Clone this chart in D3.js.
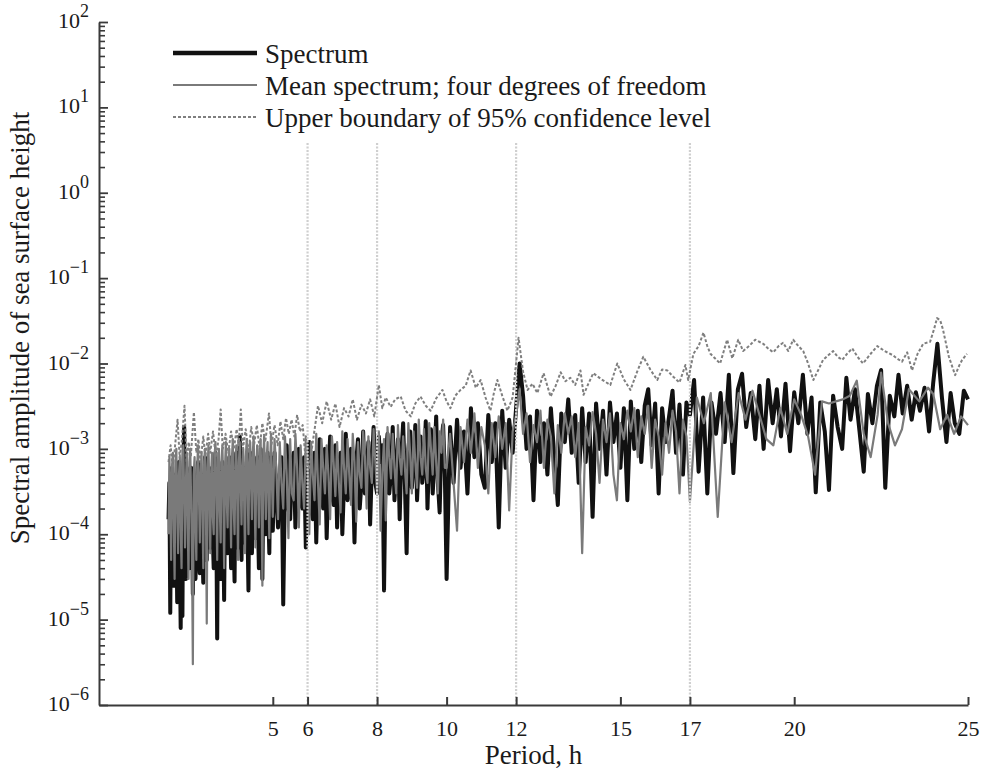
<!DOCTYPE html>
<html>
<head>
<meta charset="utf-8">
<script src="https://cdn.jsdelivr.net/npm/d3@7/dist/d3.min.js"></script>
<style>
  body { margin: 0; background: #fff; }
  svg { display: block; }
  text { font-family: "Liberation Serif", "Times New Roman", Tinos, "Nimbus Roman", "Noto Serif", "DejaVu Serif", serif; fill: #1a1a1a; }
</style>
</head>
<body>
<svg id="chart" width="984" height="769"></svg>
<script>
// ---- Axis ticks and reference periods ----
const periodTicks = [5, 6, 8, 10, 12, 15, 17, 20, 25];
const markerPeriods = [6, 8, 12, 17];
const decadeExponents = [2, 1, 0, -1, -2, -3, -4, -5, -6];

const legendLabels = [
  "Spectrum",
  "Mean spectrum; four degrees of freedom",
  "Upper boundary of 95% confidence level"
];

// ---- Spectrum: [period (h), amplitude] ----
const spectrumA = [
  [2.000,1.5e-4],[2.025,4e-4],[2.050,1.2e-5],[2.075,3e-4],[2.100,6e-4],[2.125,5e-5],[2.150,2.5e-5],[2.175,4e-4],
  [2.200,5e-4],[2.225,1.2e-4],[2.250,1.6e-5],[2.275,2e-4],[2.300,7e-4],[2.325,6e-5],[2.350,8e-6],[2.375,3e-4],
  [2.400,1.1e-5],[2.425,5e-4],[2.450,1.8e-3],[2.475,1e-4],[2.500,3e-5],[2.525,6e-4],[2.550,5e-4],[2.575,8e-5],
  [2.600,4e-5],[2.625,3e-4],[2.650,6e-4],[2.675,1.5e-4],[2.700,2e-5],[2.725,2.5e-4],[2.750,4e-4],[2.775,3e-5],
  [2.800,6e-5],[2.825,5e-4],[2.850,7e-4],[2.875,1.2e-4],[2.900,3.5e-5],[2.925,4e-4],[2.950,5e-4],[2.975,7e-5],
  [3.000,2.7e-5],[3.025,3e-4],[3.050,8e-4],[3.075,1e-4],[3.100,5e-5],[3.125,6e-4],[3.150,4e-4],[3.175,1.8e-4],
  [3.200,7e-5],[3.225,2e-4],[3.250,6e-4],[3.275,9e-5],[3.300,4e-5],[3.325,5e-4],[3.350,9e-4],[3.375,1.3e-4],
  [3.400,6e-6],[3.425,3e-4],[3.450,5e-4],[3.475,6e-5],[3.500,3e-5],[3.525,4e-4],[3.550,7e-4],[3.575,1.1e-4],
  [3.600,1.7e-5],[3.625,2.5e-4],[3.650,5e-4],[3.675,2e-4],[3.700,6e-5],[3.725,4e-4],[3.750,8e-4],[3.775,1.4e-4],
  [3.800,4e-5],[3.825,3e-4],[3.850,6e-4],[3.875,8e-5],[3.900,2.8e-5],[3.925,5e-4],[3.950,9e-4],[3.975,1.6e-4],
  [4.000,7e-5],[4.025,6e-4],[4.050,1.4e-3],[4.075,1.2e-4],[4.100,5e-5],[4.125,3e-4],[4.150,6e-4],[4.175,2e-4],
  [4.200,8e-5],[4.225,4e-4],[4.250,7e-4],[4.275,1e-4],[4.300,2.2e-5],[4.325,5e-4],[4.350,9e-4],[4.375,2.2e-4],
  [4.400,6e-5],[4.425,3e-4],[4.450,6e-4],[4.475,1.5e-4],[4.500,9e-5],[4.525,5e-4],[4.550,8e-4],[4.575,1.3e-4],
  [4.600,4e-5],[4.625,4e-4],[4.650,1e-3],[4.675,2e-4],[4.700,3e-5],[4.725,3e-4],[4.750,7e-4],[4.775,2.5e-4],
  [4.800,1e-4],[4.825,6e-4],[4.850,9e-4],[4.875,1.6e-4],[4.900,6e-5],[4.925,4e-4],[4.950,8e-4],[4.975,2e-4],
  [5.000,1.1e-4]
];
const spectrumB = [
  [5.05,9e-4],[5.10,3e-4],[5.15,1.2e-4],[5.20,5e-4],[5.25,8e-4],[5.30,1.5e-5],[5.35,4e-4],[5.40,1.1e-3],
  [5.45,2e-4],[5.50,1.5e-4],[5.55,7e-4],[5.60,9e-4],[5.65,1.2e-4],[5.70,4e-4],[5.75,1e-3],[5.80,2.5e-4],
  [5.85,2e-4],[5.90,8e-4],[5.95,7e-5],[6.00,5e-4],[6.05,1.2e-3],[6.10,2e-4],[6.15,1.5e-4],[6.20,9e-4],
  [6.25,8e-5],[6.30,6e-4],[6.35,1.3e-3],[6.40,3e-4],[6.45,2e-4],[6.50,1e-3],[6.55,9e-5],[6.60,5e-4],
  [6.65,1.4e-3],[6.70,3e-4],[6.75,2.2e-4],[6.80,1.1e-3],[6.85,1.2e-4],[6.90,6e-4],[6.95,9e-4],[7.00,1e-4],
  [7.05,4e-4],[7.10,1.5e-3],[7.15,2.5e-4],[7.20,3e-4],[7.25,1e-3],[7.30,6e-4],[7.35,8e-5],[7.40,7e-4],
  [7.45,1.3e-3],[7.50,2e-4],[7.55,4e-4],[7.60,1.6e-3],[7.65,3e-4],[7.70,5e-4],[7.75,1.2e-3],[7.80,1.3e-4],
  [7.85,6e-4],[7.90,1.8e-3],[7.95,4e-4],[8.00,3e-4],[8.05,1.4e-3],[8.10,7e-4],[8.15,1.1e-3],[8.20,2.2e-5],
  [8.25,8e-4],[8.30,1.5e-3],[8.35,3e-4],[8.40,5e-4],[8.45,1.8e-3],[8.50,2.5e-4],[8.55,6e-4],[8.60,1.3e-3],
  [8.65,1.5e-4],[8.70,9e-4],[8.75,2e-3],[8.80,4e-4],[8.85,6e-5],[8.90,1e-3],[8.95,1.6e-3],[9.00,3.5e-4],
  [9.05,7e-4],[9.10,1.9e-3],[9.15,2.5e-4],[9.20,8e-4],[9.25,1.4e-3],[9.30,4e-4],[9.35,6e-4],[9.40,2.1e-3],
  [9.45,2e-4],[9.50,9e-4],[9.55,1.7e-3],[9.60,3e-4],[9.65,7e-4],[9.70,2.4e-3],[9.75,4e-4],[9.80,1.8e-4],
  [9.85,1.2e-3],[9.90,1.9e-3],[9.95,5e-4]
];
const spectrumC = [
  [10.0,3e-5],[10.1,1.8e-3],[10.2,4e-4],[10.3,2.2e-3],[10.4,6e-4],[10.5,1.6e-3],[10.6,3e-4],[10.7,3e-3],
  [10.8,8e-4],[10.9,2e-3],[11.0,5e-4],[11.1,3.5e-4],[11.2,2.5e-3],[11.3,7e-4],[11.4,2e-3],[11.5,1.2e-4],
  [11.6,2.8e-3],[11.7,6e-4],[11.8,2.2e-3],[11.9,9e-4],[12.0,3e-3],[12.1,1e-2],[12.2,4.2e-3],[12.3,1e-3],
  [12.4,2.4e-3],[12.5,2.5e-4],[12.6,2.8e-3],[12.7,7e-4],[12.8,2e-3],[12.9,5e-4],[13.0,3e-3],[13.1,8e-4],
  [13.2,2.2e-4],[13.3,2.6e-3],[13.4,1.2e-3],[13.5,3.8e-3],[13.6,9e-4],[13.7,2.5e-3],[13.8,4e-4],[13.9,3e-3],
  [14.0,7e-4],[14.1,2.6e-3],[14.2,1.6e-4],[14.3,3.4e-3],[14.4,1e-3],[14.5,2.8e-3],[14.6,5e-4],[14.7,3.5e-3],
  [14.8,1.2e-3],[14.9,2.6e-3],[15.0,6e-4],[15.1,3e-3],[15.2,2.5e-4],[15.3,3.6e-3],[15.4,1e-3],[15.5,2.8e-3],
  [15.6,7e-4],[15.7,3.2e-3],[15.8,5e-3],[15.9,1.1e-3],[16.0,3.4e-3],[16.1,3e-4],[16.2,3e-3],[16.3,1.2e-3],
  [16.4,2.4e-3],[16.5,4.8e-3],[16.6,9e-4],[16.7,3.3e-3],[16.8,5e-4],[16.9,3.5e-3]
];
const spectrumD = [
  [17.00,2.5e-3],[17.12,6.4e-3],[17.25,5.4e-4],[17.38,4e-3],[17.50,3e-4],[17.62,3.5e-3],[17.75,1.5e-3],[17.88,4.5e-3],
  [18.00,1.2e-3],[18.12,7.4e-3],[18.25,5.2e-4],[18.38,5e-3],[18.50,7.6e-3],[18.62,1.8e-3],[18.75,4.5e-3],[18.88,1.3e-3],
  [19.00,5.5e-3],[19.12,1e-3],[19.25,6.4e-3],[19.38,2e-3],[19.50,5e-3],[19.62,1.4e-3],[19.75,5.8e-3],[19.88,9.4e-4],
  [20.00,4.6e-3],[20.12,2e-3],[20.25,7.4e-3],[20.38,1.5e-3],[20.50,4e-3],[20.62,3.1e-4],[20.75,3.5e-3],[20.88,1.6e-3],
  [21.00,3.3e-4],[21.12,4.2e-3],[21.25,1.8e-3],[21.38,1e-3],[21.50,6.8e-3],[21.62,2.2e-3],[21.75,5e-3],[21.88,1.6e-3],
  [22.00,5.4e-4],[22.12,4.4e-3],[22.25,2e-3],[22.38,5.5e-3],[22.50,8.4e-3],[22.62,3.5e-4],[22.75,4.2e-3],[22.88,2.4e-3],
  [23.00,7.4e-3],[23.12,2.6e-3],[23.25,5.5e-3],[23.38,2.2e-3],[23.50,4.6e-3],[23.62,2.8e-3],[23.75,5.2e-3],[23.88,1.6e-3],
  [24.00,6e-3],[24.12,1.7e-2],[24.25,4e-3],[24.38,1.2e-3],[24.50,4.5e-3],[24.62,2e-3],[24.75,1.5e-3],[24.88,4.8e-3],
  [25.00,3.8e-3]
];

// ---- Mean spectrum (four degrees of freedom) ----
const meanA = [
  [2.000,1e-4],[2.025,8e-4],[2.050,3e-4],[2.075,5e-5],[2.100,6e-4],[2.125,9e-4],[2.150,1.5e-4],[2.175,3e-5],
  [2.200,7e-4],[2.225,1e-3],[2.250,2e-4],[2.275,6e-5],[2.300,5e-4],[2.325,8e-4],[2.350,1.2e-4],[2.375,4e-5],
  [2.400,6e-4],[2.425,1.1e-3],[2.450,3e-4],[2.475,7e-5],[2.500,4e-4],[2.525,9e-4],[2.550,1.8e-4],[2.575,3e-5],
  [2.600,7e-4],[2.625,1e-3],[2.650,2.5e-4],[2.675,6e-5],[2.700,3e-6],[2.725,5e-4],[2.750,8e-4],[2.775,1.3e-4],
  [2.800,5e-5],[2.825,6e-4],[2.850,1.1e-3],[2.875,3e-4],[2.900,8e-5],[2.925,5e-4],[2.950,9e-4],[2.975,2e-4],
  [3.000,4e-5],[3.025,7e-4],[3.050,1e-3],[3.075,2.5e-4],[3.100,9e-6],[3.125,6e-4],[3.150,1.1e-3],[3.175,3e-4],
  [3.200,6e-5],[3.225,5e-4],[3.250,9e-4],[3.275,1.6e-4],[3.300,1e-4],[3.325,8e-4],[3.350,1.2e-3],[3.375,3e-4],
  [3.400,5e-5],[3.425,6e-4],[3.450,1e-3],[3.475,2e-4],[3.500,8e-5],[3.525,7e-4],[3.550,1.1e-3],[3.575,3.5e-4],
  [3.600,4e-5],[3.625,6e-4],[3.650,1.2e-3],[3.675,2.5e-4],[3.700,1.2e-4],[3.725,7e-4],[3.750,1e-3],[3.775,3e-4],
  [3.800,7e-5],[3.825,8e-4],[3.850,1.3e-3],[3.875,2e-4],[3.900,1e-4],[3.925,6e-4],[3.950,1.1e-3],[3.975,3e-4],
  [4.000,5e-5],[4.025,7e-4],[4.050,1.2e-3],[4.075,4e-4],[4.100,1.3e-4],[4.125,6e-4],[4.150,1e-3],[4.175,2.5e-4],
  [4.200,6e-5],[4.225,8e-4],[4.250,1.3e-3],[4.275,3.5e-4],[4.300,1e-4],[4.325,7e-4],[4.350,1.2e-3],[4.375,4e-4],
  [4.400,1.5e-4],[4.425,9e-4],[4.450,1.4e-3],[4.475,3e-4],[4.500,7e-5],[4.525,6e-4],[4.550,1.1e-3],[4.575,4e-4],
  [4.600,1.2e-4],[4.625,8e-4],[4.650,1.3e-3],[4.675,3e-4],[4.700,2.5e-5],[4.725,7e-4],[4.750,1.4e-3],[4.775,4.5e-4],
  [4.800,1.5e-4],[4.825,8e-4],[4.850,1.2e-3],[4.875,3e-4],[4.900,9e-5],[4.925,7e-4],[4.950,1.5e-3],[4.975,4e-4],
  [5.000,1.6e-4]
];
const meanB = [
  [5.05,1.3e-3],[5.10,6e-4],[5.15,1.5e-4],[5.20,1.2e-3],[5.25,4e-4],[5.30,2e-4],[5.35,1.4e-3],[5.40,5e-4],
  [5.45,9e-5],[5.50,1.3e-3],[5.55,3e-4],[5.60,2.5e-4],[5.65,1.5e-3],[5.70,6e-4],[5.75,1.2e-4],[5.80,1.1e-3],
  [5.85,4e-4],[5.90,2e-4],[5.95,1.4e-3],[6.00,7e-4],[6.05,1e-4],[6.10,1.2e-3],[6.15,5e-4],[6.20,2.5e-4],
  [6.25,1.5e-3],[6.30,4e-4],[6.35,1.3e-4],[6.40,1.3e-3],[6.45,6e-4],[6.50,3e-4],[6.55,1.1e-3],[6.60,5e-4],
  [6.65,1.5e-4],[6.70,1.4e-3],[6.75,7e-4],[6.80,2.8e-4],[6.85,1.2e-3],[6.90,4e-4],[6.95,1.8e-4],[7.00,1.6e-3],
  [7.05,6e-4],[7.10,3e-4],[7.15,1.3e-3],[7.20,5e-4],[7.25,2.2e-4],[7.30,1.5e-3],[7.35,7e-4],[7.40,1.4e-4],
  [7.45,1.2e-3],[7.50,5e-4],[7.55,3.5e-4],[7.60,1.6e-3],[7.65,8e-4],[7.70,2e-4],[7.75,1.4e-3],[7.80,6e-4],
  [7.85,4e-4],[7.90,1.7e-3],[7.95,7e-4],[8.00,3e-4],[8.05,1.6e-3],[8.10,1.1e-4],[8.15,5e-4],[8.20,1.3e-3],
  [8.25,1.45e-4],[8.30,1.8e-3],[8.35,8e-4],[8.40,4.5e-4],[8.45,1.5e-3],[8.50,6e-4],[8.55,3e-4],[8.60,1.9e-3],
  [8.65,8e-4],[8.70,5e-4],[8.75,1.4e-3],[8.80,6e-4],[8.85,3e-4],[8.90,2e-3],[8.95,9e-4],[9.00,3e-4],
  [9.05,1.6e-3],[9.10,7e-4],[9.15,3.5e-4],[9.20,2.2e-3],[9.25,8e-4],[9.30,5e-4],[9.35,1.7e-3],[9.40,6e-4],
  [9.45,4e-4],[9.50,2e-3],[9.55,1e-3],[9.60,5e-4],[9.65,1.8e-3],[9.70,7e-4],[9.75,3e-4],[9.80,1.6e-3],
  [9.85,9e-4],[9.90,2.2e-3],[9.95,6e-4]
];
const meanC = [
  [10.0,6e-4],[10.1,1.5e-3],[10.2,4e-4],[10.3,1.1e-4],[10.4,1.8e-3],[10.5,7e-4],[10.6,2.2e-3],[10.7,9e-4],
  [10.8,2.6e-3],[10.9,6e-4],[11.0,1.8e-3],[11.1,1.1e-3],[11.2,3e-4],[11.3,2e-3],[11.4,8e-4],[11.5,2.4e-3],
  [11.6,1e-3],[11.7,2e-3],[11.8,1.9e-4],[11.9,1.6e-3],[12.0,2.5e-3],[12.1,5e-3],[12.2,1.5e-3],[12.3,2.6e-3],
  [12.4,7e-4],[12.5,1.9e-3],[12.6,1.2e-3],[12.7,2.8e-3],[12.8,6e-4],[12.9,2.2e-3],[13.0,1.4e-3],[13.1,3e-4],
  [13.2,1.9e-3],[13.3,9e-4],[13.4,2.6e-3],[13.5,1.5e-3],[13.6,2.4e-3],[13.7,8e-4],[13.8,2e-3],[13.9,6e-5],
  [14.0,1.8e-3],[14.1,1.1e-3],[14.2,2.7e-3],[14.3,1.5e-3],[14.4,4e-4],[14.5,2.2e-3],[14.6,1.2e-3],[14.7,2.6e-3],
  [14.8,5e-4],[14.9,2.5e-4],[15.0,2e-3],[15.1,1.3e-3],[15.2,2.8e-3],[15.3,1.6e-3],[15.4,3e-3],[15.5,8e-4],
  [15.6,2.4e-3],[15.7,1.5e-3],[15.8,3.2e-3],[15.9,6e-4],[16.0,2.2e-3],[16.1,1.4e-3],[16.2,5e-4],[16.3,2e-3],
  [16.4,9e-4],[16.5,2.8e-3],[16.6,1.6e-3],[16.7,3e-4],[16.8,2.2e-3],[16.9,1.4e-3]
];
const meanD = [
  [17.0,2.4e-4],[17.2,4e-3],[17.4,2e-3],[17.6,4.5e-3],[17.8,1.6e-4],[18.0,3.5e-3],[18.2,1.2e-3],[18.4,4.5e-3],
  [18.6,2.2e-3],[18.8,4.8e-3],[19.0,2.5e-3],[19.2,1.3e-3],[19.4,1.1e-3],[19.6,3e-3],[19.8,1.5e-3],[20.0,3.8e-3],
  [20.2,2.5e-3],[20.4,1.4e-3],[20.6,5e-4],[20.8,3.6e-3],[21.0,3.4e-3],[21.2,3.6e-3],[21.4,3.8e-3],[21.6,4.2e-3],
  [21.8,6.3e-3],[22.0,1.5e-3],[22.2,8e-4],[22.4,2.5e-3],[22.5,7.8e-3],[22.7,2e-3],[22.9,1.1e-3],[23.1,1.7e-3],
  [23.3,5e-3],[23.6,3.6e-3],[23.85,5.2e-3],[24.0,4.4e-3],[24.2,1.7e-3],[24.4,2.5e-3],[24.6,1.5e-3],[24.8,2.4e-3],
  [25.0,1.9e-3]
];

// ---- Upper boundary of the 95% confidence level ----
const upperA = [
  [2.00,7e-4],[2.06,1.1e-3],[2.12,6e-4],[2.18,1e-3],[2.26,2.2e-3],[2.32,8e-4],[2.38,1.2e-3],[2.46,3.2e-3],
  [2.52,7e-4],[2.58,1.2e-3],[2.64,8e-4],[2.73,2.7e-3],[2.80,9e-4],[2.86,1.3e-3],[2.92,7e-4],[3.00,1.4e-3],
  [3.06,8e-4],[3.14,1.5e-3],[3.20,9e-4],[3.28,1.6e-3],[3.36,8e-4],[3.44,1.3e-3],[3.50,2.9e-3],[3.56,1e-3],
  [3.64,1.5e-3],[3.72,9e-4],[3.80,1.6e-3],[3.88,1e-3],[3.96,1.7e-3],[4.02,1.1e-3],[4.08,2.9e-3],[4.14,1e-3],
  [4.22,1.7e-3],[4.30,9e-4],[4.38,1.8e-3],[4.46,1.1e-3],[4.54,1.9e-3],[4.62,1e-3],[4.70,2e-3],[4.78,1.2e-3],
  [4.89,2.6e-3],[4.96,1.1e-3]
];
const upperB = [
  [5.05,1.9e-3],[5.14,1.1e-3],[5.22,2.1e-3],[5.30,1.3e-3],[5.38,2.3e-3],[5.46,1.5e-3],[5.54,2.2e-3],[5.62,1.4e-3],
  [5.70,2.5e-3],[5.78,1.6e-3],[5.86,1.9e-3],[5.95,7e-4],[6.05,6e-4],[6.15,1.2e-3],[6.30,3.2e-3],[6.42,2e-3],
  [6.55,3.6e-3],[6.68,2.2e-3],[6.80,3.4e-3],[6.92,1.8e-3],[7.05,3e-3],[7.18,2.4e-3],[7.30,3.8e-3],[7.42,2.2e-3],
  [7.55,3.3e-3],[7.68,2.6e-3],[7.80,3.8e-3],[7.92,2.4e-3],[8.05,5.6e-3],[8.15,3e-3],[8.25,4e-3],[8.39,3.1e-3],
  [8.52,3.8e-3],[8.68,4.1e-3],[8.82,2.8e-3],[8.97,2.4e-3],[9.10,3.4e-3],[9.25,4.1e-3],[9.40,3.2e-3],[9.54,2.8e-3],
  [9.70,3.9e-3],[9.88,4.9e-3]
];
const upperC = [
  [10.00,3.6e-3],[10.11,3e-3],[10.25,4.2e-3],[10.40,4.9e-3],[10.55,5.5e-3],[10.69,8.3e-3],[10.84,5.2e-3],[10.98,6.4e-3],
  [11.12,4e-3],[11.26,2.8e-3],[11.36,4.5e-3],[11.46,6.4e-3],[11.60,4.2e-3],[11.75,2.8e-3],[11.90,4e-3],[12.07,2e-2],
  [12.20,8e-3],[12.33,4.9e-3],[12.47,5.8e-3],[12.61,4.5e-3],[12.79,7.7e-3],[12.99,4.1e-3],[13.14,5.5e-3],[13.28,7.9e-3],
  [13.42,6.2e-3],[13.56,6.8e-3],[13.70,5.6e-3],[13.85,8.3e-3],[13.94,4.3e-3],[14.08,5.8e-3],[14.22,7.7e-3],[14.46,6.5e-3],
  [14.71,5.6e-3],[14.91,1e-2],[15.10,6.5e-3],[15.29,4.9e-3],[15.48,8e-3],[15.66,1.2e-2],[15.86,8.5e-3],[16.06,6.4e-3],
  [16.20,8.5e-3],[16.35,8.3e-3],[16.52,7e-3],[16.70,6e-3],[16.87,9.6e-3],[16.95,6.4e-3]
];
const upperD = [
  [17.10,1.3e-2],[17.25,1.6e-2],[17.39,2.3e-2],[17.50,1.6e-2],[17.59,1.3e-2],[17.72,1.15e-2],[17.87,1e-2],[18.07,1.9e-2],
  [18.22,1.15e-2],[18.39,1.9e-2],[18.53,1.4e-2],[18.70,1.6e-2],[18.88,1.9e-2],[19.11,1.7e-2],[19.25,1.5e-2],[19.40,1.35e-2],
  [19.55,1.6e-2],[19.68,1.75e-2],[19.83,1.4e-2],[19.97,1.9e-2],[20.12,1.6e-2],[20.26,1.4e-2],[20.40,1e-2],[20.55,6.4e-3],
  [20.70,8.5e-3],[20.83,1.1e-2],[20.98,1.25e-2],[21.12,1.4e-2],[21.25,1.2e-2],[21.38,1.1e-2],[21.52,1.3e-2],[21.67,1.5e-2],
  [21.82,1.2e-2],[21.98,1e-2],[22.20,1.3e-2],[22.39,1.6e-2],[22.60,1.4e-2],[22.84,1.25e-2],[22.95,1.15e-2],[23.10,1.05e-2],
  [23.25,1.35e-2],[23.39,8.3e-3],[23.55,1.3e-2],[23.71,1.7e-2],[23.91,1.8e-2],[24.02,2.5e-2],[24.11,3.4e-2],[24.20,3.2e-2],
  [24.28,2.5e-2],[24.45,1.2e-2],[24.63,7.3e-3],[24.75,9.5e-3],[24.83,1.1e-2],[24.97,1.3e-2]
];

// ---- Layout ----
const plot = { left: 99, right: 968, top: 22, bottom: 705 };
const svg = d3.select("#chart");

const x = d3.scaleLinear().domain([0, 25]).range([plot.left, plot.right]);
const y = d3.scaleLog().domain([1e-6, 1e2]).range([plot.bottom, plot.top]);

const spectrum = [...spectrumA, ...spectrumB, ...spectrumC, ...spectrumD];
const meanSpectrum = [...meanA, ...meanB, ...meanC, ...meanD];
const upperBound = [...upperA, ...upperB, ...upperC, ...upperD];

const line = d3.line().x(d => x(d[0])).y(d => y(d[1]));

const styles = {
  spectrum: { stroke: "#111", width: 4, dash: null },
  mean: { stroke: "#7a7a7a", width: 2.2, dash: null },
  upper: { stroke: "#7f7f7f", width: 2, dash: "3,2" }
};

// Data lines
svg.append("path").datum(spectrum)
  .attr("d", line).attr("fill", "none")
  .attr("stroke", styles.spectrum.stroke).attr("stroke-width", styles.spectrum.width)
  .attr("stroke-linejoin", "round");

svg.append("path").datum(meanSpectrum)
  .attr("d", line).attr("fill", "none")
  .attr("stroke", styles.mean.stroke).attr("stroke-width", styles.mean.width)
  .attr("stroke-linejoin", "round");

// Reference periods
svg.append("g").selectAll("line").data(markerPeriods).join("line")
  .attr("x1", d => x(d)).attr("x2", d => x(d))
  .attr("y1", 143).attr("y2", plot.bottom)
  .attr("stroke", "#cfcfcf").attr("stroke-width", 2.2)
  .attr("stroke-dasharray", "2,1.5");

svg.append("path").datum(upperBound)
  .attr("d", line).attr("fill", "none")
  .attr("stroke", styles.upper.stroke).attr("stroke-width", styles.upper.width)
  .attr("stroke-dasharray", styles.upper.dash)
  .attr("stroke-linejoin", "round");

// ---- X axis ----
const xAxis = d3.axisBottom(x)
  .tickValues(periodTicks)
  .tickFormat(d3.format("d"))
  .tickSizeInner(-8).tickSizeOuter(0).tickPadding(15);

const gx = svg.append("g")
  .attr("transform", `translate(0,${plot.bottom})`)
  .call(xAxis);
gx.attr("font-family", null).attr("font-size", null);
gx.select(".domain").attr("stroke", "#3a3a3a").attr("stroke-width", 2);
gx.selectAll(".tick line").attr("stroke", "#3a3a3a").attr("stroke-width", 2);
gx.selectAll(".tick text").attr("font-size", 22).attr("fill", "#1a1a1a");

// ---- Y axis (log, minor ticks inside) ----
const minorValues = [];
decadeExponents.slice(1).forEach(e => {
  for (let k = 2; k <= 9; k++) minorValues.push(k * Math.pow(10, e));
});

const gyMinor = svg.append("g")
  .attr("transform", `translate(${plot.left},0)`)
  .call(d3.axisLeft(y).tickValues(minorValues).tickFormat("").tickSizeInner(-6).tickSizeOuter(0));
gyMinor.select(".domain").remove();
gyMinor.selectAll(".tick line").attr("stroke", "#3a3a3a").attr("stroke-width", 1.6);

const gy = svg.append("g")
  .attr("transform", `translate(${plot.left},0)`)
  .call(d3.axisLeft(y)
    .tickValues(decadeExponents.map(e => Math.pow(10, e)))
    .tickFormat("")
    .tickSizeInner(-9).tickSizeOuter(0));
gy.select(".domain").attr("stroke", "#3a3a3a").attr("stroke-width", 2);
gy.selectAll(".tick line").attr("stroke", "#3a3a3a").attr("stroke-width", 1.8);

// Decade labels written as 10 with a raised exponent
const supFmt = e => (e < 0 ? "\u2212" + Math.abs(e) : String(e));
const yLabels = svg.append("g");
decadeExponents.forEach(e => {
  const t = yLabels.append("text")
    .attr("x", plot.left - 10)
    .attr("y", y(Math.pow(10, e)) + 6)
    .attr("text-anchor", "end")
    .attr("font-size", 22);
  t.append("tspan").text("10");
  t.append("tspan").attr("dy", -11).attr("font-size", 18).text(supFmt(e));
});

// ---- Axis titles ----
svg.append("text")
  .attr("x", (plot.left + plot.right) / 2)
  .attr("y", 764)
  .attr("text-anchor", "middle")
  .attr("font-size", 27)
  .text("Period, h");

svg.append("text")
  .attr("transform", "translate(29,328) rotate(-90)")
  .attr("text-anchor", "middle")
  .attr("font-size", 27)
  .text("Spectral amplitude of sea surface height");

// ---- Legend ----
const legend = svg.append("g").attr("transform", "translate(173,53)");
const legendStyles = [styles.spectrum, styles.mean, styles.upper];
legendLabels.forEach((label, i) => {
  const s = legendStyles[i];
  const g = legend.append("g").attr("transform", `translate(0,${i * 32})`);
  g.append("line")
    .attr("x1", 0).attr("x2", 84).attr("y1", 0).attr("y2", 0)
    .attr("stroke", s.stroke)
    .attr("stroke-width", i === 0 ? 4.5 : s.width)
    .attr("stroke-dasharray", s.dash);
  g.append("text")
    .attr("x", 92).attr("y", 9.5)
    .attr("font-size", 27)
    .text(label);
});
</script>
</body>
</html>
